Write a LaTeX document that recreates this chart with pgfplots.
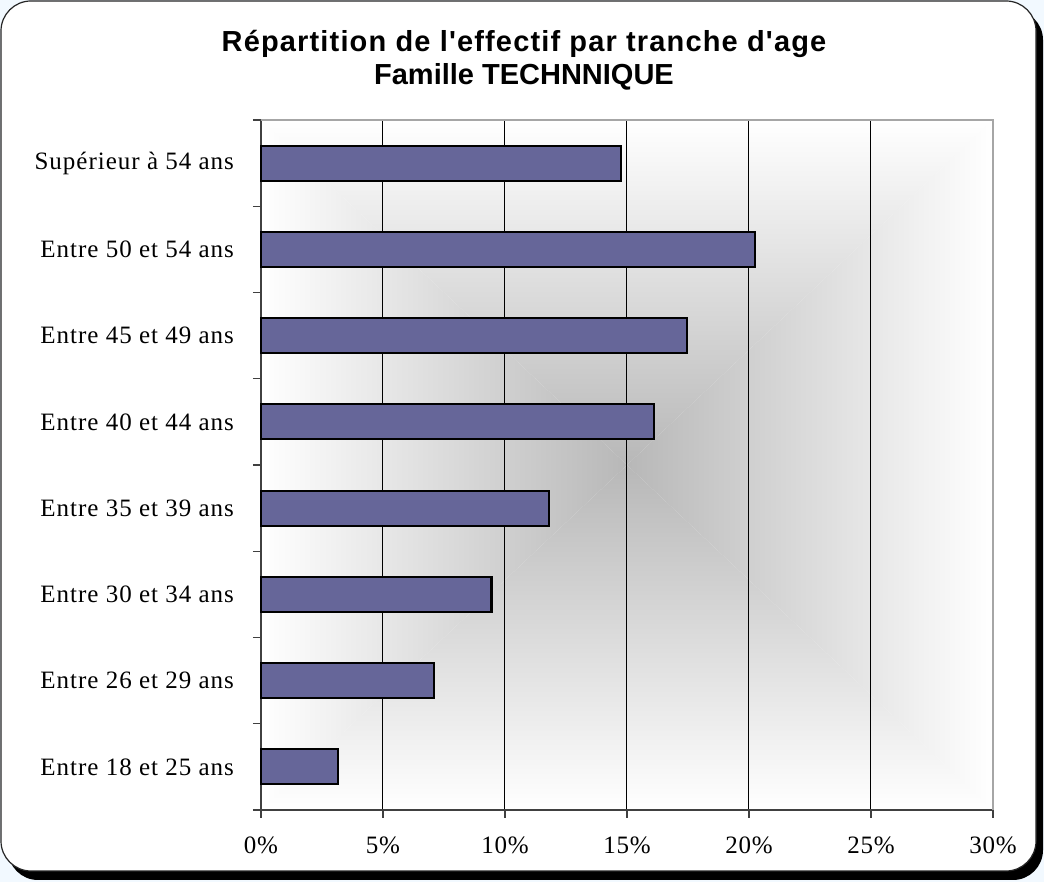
\documentclass[border=0pt]{standalone}
\usepackage{fontspec}
\setmainfont{Liberation Serif}
\newfontfamily\titlefont{Liberation Sans}
\newfontfamily\titlefontsp{Liberation Sans}[LetterSpace=4]
\newfontfamily\lblfont{Liberation Serif}[LetterSpace=4]
\newfontfamily\xlblfont{Liberation Serif}[LetterSpace=3]
\usepackage{pgfplots}
\pgfplotsset{compat=1.18}
\definecolor{barcol}{RGB}{102,102,153}
\definecolor{outerbg}{HTML}{F2F9FF}
\begin{document}
\begin{tikzpicture}
\useasboundingbox (0,0) rectangle (522pt,441pt);
\fill[outerbg] (0,0) rectangle (522pt,441pt);
\fill[black, rounded corners=15pt] (4pt,1pt) rectangle (521.5pt,436pt);
\filldraw[fill=white, draw=black!85, line width=0.6pt, rounded corners=15pt] (0.5pt,5.5pt) rectangle (518pt,440.5pt);
% plot area background gradient (from centre)
\coordinate (c) at (313.5pt,208.5pt);
\shade[top color=white, bottom color=black!28] (130.5pt,381pt) -- (496.5pt,381pt) -- (c) -- cycle;
\shade[top color=black!28, bottom color=white] (130.5pt,36pt) -- (496.5pt,36pt) -- (c) -- cycle;
\shade[left color=white, right color=black!28] (130.5pt,36pt) -- (130.5pt,381pt) -- (c) -- cycle;
\shade[left color=black!28, right color=white] (496.5pt,36pt) -- (496.5pt,381pt) -- (c) -- cycle;
\node[align=center, font=\bfseries\fontsize{14.5pt}{16.8pt}\selectfont] at (262pt,410.8pt)
  {{\titlefontsp\bfseries Répartition de l'effectif par tranche d'age}\\{\titlefont\bfseries Famille TECHNNIQUE}};
\begin{axis}[
  at={(130.5pt,36pt)}, anchor=south west,
  width=366pt, height=345pt, scale only axis,
  xmin=0, xmax=30, ymin=-0.5, ymax=7.5,
  axis lines=left,
  axis line style={-, black!75, line width=0.7pt},
  tick align=outside,
  tick style={black!75, line width=0.6pt},
  major tick length=4pt,
  xtick={0,5,...,30},
  xticklabels={0\%,5\%,10\%,15\%,20\%,25\%,30\%},
  ytick={-0.5,0.5,...,7.5},
  yticklabels={},
  extra y ticks={0,1,2,3,4,5,6,7},
  extra y tick labels={Entre 18 et 25 ans,Entre 26 et 29 ans,Entre 30 et 34 ans,Entre 35 et 39 ans,Entre 40 et 44 ans,Entre 45 et 49 ans,Entre 50 et 54 ans,Supérieur à 54 ans},
  extra y tick style={major tick length=0pt, yticklabel style={anchor=east, xshift=-10pt}},
  yticklabel style={font=\lblfont\fontsize{12.5pt}{14pt}\selectfont},
  xticklabel style={font=\xlblfont\fontsize{12.5pt}{14pt}\selectfont, yshift=-6pt},
  xmajorgrids,
  major grid style={black, line width=0.5pt},
  clip=false,
]
\addplot[xbar, bar width=17.5pt, fill=barcol, draw=black, line width=1.1pt]
  coordinates {(3.15,0) (7.1,1) (9.45,2) (11.8,3) (16.1,4) (17.45,5) (20.25,6) (14.75,7)};
\draw[black!35, line width=0.6pt] (rel axis cs:0,1) -- (rel axis cs:1,1) -- (rel axis cs:1,0);
\end{axis}
\end{tikzpicture}
\end{document}
